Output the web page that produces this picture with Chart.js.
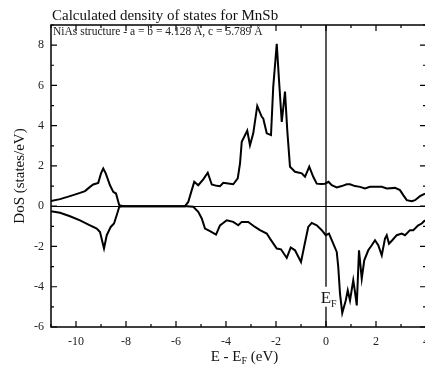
<!DOCTYPE html>
<html>
<head>
<meta charset="utf-8">
<script src="https://cdn.jsdelivr.net/npm/chart.js@4/dist/chart.umd.min.js"></script>
<style>
  html, body { margin: 0; padding: 0; background: #fff; overflow: hidden; width: 425px; height: 374px; }
  canvas { display: block; }
</style>
</head>
<body>
<canvas id="c" width="440" height="374"></canvas>
<script>
// ---- data ----
const titleText = 'Calculated density of states for MnSb';
const noteText = 'NiAs structure - a = b = 4.128 Å, c = 5.789 Å';
const yAxisLabel = 'DoS (states/eV)';

const upEnergy = [-11.0, -10.64, -10.24, -9.84, -9.64, -9.44, -9.31, -9.11, -9.0, -8.91, -8.81, -8.64, -8.51, -8.4, -8.27, -8.1,
  -5.64, -5.51, -5.37, -5.27, -5.11, -4.91, -4.73, -4.57, -4.37, -4.24, -4.11, -3.91, -3.71, -3.53, -3.44, -3.37, -3.15, -3.04,
  -2.91, -2.75, -2.57, -2.51, -2.37, -2.2, -2.11, -1.97, -1.88, -1.77, -1.64, -1.55, -1.44, -1.24, -0.97, -0.84, -0.67, -0.51,
  -0.37, -0.2, -0.04, 0.1, 0.23, 0.43, 0.63, 0.83, 0.96, 1.16, 1.36, 1.56, 1.76, 1.96, 2.23, 2.43, 2.76, 2.96, 3.09, 3.23,
  3.43, 3.56, 3.76, 3.96];
const upDos = [0.26, 0.35, 0.5, 0.66, 0.75, 0.96, 1.08, 1.16, 1.63, 1.87, 1.63, 1.04, 0.71, 0.63, 0.05, 0,
  0, 0.21, 0.8, 1.21, 1.04, 1.33, 1.66, 1.08, 1.01, 0.99, 1.16, 1.13, 1.09, 1.38, 2.12, 3.2, 3.75, 3.03,
  3.62, 4.98, 4.44, 4.36, 3.62, 3.53, 5.94, 8.06, 6.27, 4.19, 5.69, 3.78, 1.96, 1.71, 1.63, 1.46, 1.96, 1.46,
  1.12, 1.1, 1.12, 1.21, 1.04, 0.93, 1.0, 1.09, 1.09, 1.0, 0.96, 0.88, 0.96, 0.96, 0.96, 0.88, 0.91, 0.8, 0.55, 0.3,
  0.25, 0.3, 0.5, 0.63];

const downEnergy = [-11.0, -10.64, -10.24, -9.84, -9.44, -9.17, -9.04, -8.88, -8.77, -8.61, -8.48, -8.35, -8.27, -8.1,
  -5.57, -5.31, -5.11, -4.97, -4.84, -4.64, -4.4, -4.24, -3.97, -3.71, -3.51, -3.37, -3.11, -2.84, -2.64, -2.37, -2.24,
  -1.97, -1.8, -1.57, -1.41, -1.24, -1.0, -0.84, -0.71, -0.57, -0.37, -0.17, -0.01, 0.12, 0.29, 0.43, 0.49, 0.56, 0.65,
  0.79, 0.87, 0.96, 1.09, 1.16, 1.23, 1.32, 1.43, 1.53, 1.69, 1.83, 1.96, 2.09, 2.23, 2.36, 2.43, 2.52, 2.65, 2.83,
  3.03, 3.16, 3.36, 3.49, 3.69, 3.83, 3.96];
const downDos = [-0.25, -0.33, -0.5, -0.7, -0.95, -1.11, -1.28, -2.1, -1.44, -1.03, -0.86, -0.36, -0.03, 0,
  0, -0.03, -0.28, -0.61, -1.11, -1.24, -1.41, -0.95, -0.7, -0.78, -0.95, -0.78, -0.78, -1.03, -1.19, -1.36, -1.61,
  -2.1, -2.14, -2.57, -2.05, -2.19, -2.77, -1.8, -1.03, -0.83, -0.95, -1.19, -1.44, -1.36, -1.86, -2.27, -3.02, -4.34, -5.31,
  -4.68, -4.18, -4.68, -3.68, -4.26, -4.93, -2.19, -3.6, -2.69, -2.19, -1.94, -1.69, -1.94, -2.44, -1.61, -1.44, -1.86, -1.69, -1.44,
  -1.36, -1.44, -1.19, -1.19, -0.95, -0.86, -0.7];

const xMin = -11, xMax = 4;
const yMin = -6, yMax = 9;
const fermiGap = [-4, -5]; // line interrupted for the E_F label

// ---- helpers ----
const SERIF = '"Liberation Serif", "Times New Roman", serif';
const toPts = (xs, ys) => xs.map((x, i) => ({ x: x, y: ys[i] }));

const decorPlugin = {
  id: 'decor',
  afterDraw(chart) {
    const { ctx, chartArea: a, scales: { x, y } } = chart;
    ctx.save();
    ctx.strokeStyle = '#000';
    // zero line
    ctx.lineWidth = 1;
    const y0 = Math.round(y.getPixelForValue(0)) + 0.5;
    ctx.beginPath(); ctx.moveTo(a.left, y0); ctx.lineTo(a.right, y0); ctx.stroke();
    // Fermi line
    ctx.lineWidth = 1.3;
    const x0 = x.getPixelForValue(0);
    ctx.beginPath();
    ctx.moveTo(x0, a.top); ctx.lineTo(x0, y.getPixelForValue(fermiGap[0]));
    ctx.moveTo(x0, y.getPixelForValue(fermiGap[1])); ctx.lineTo(x0, a.bottom);
    ctx.stroke();
    // frame
    ctx.lineWidth = 1.5;
    ctx.strokeRect(a.left, a.top, a.right - a.left, a.bottom - a.top);
    // inward ticks
    ctx.lineWidth = 1.2;
    ctx.beginPath();
    for (let v = xMin; v <= xMax; v++) {
      const px = x.getPixelForValue(v);
      const len = (v % 2 === 0) ? 6 : 3;
      ctx.moveTo(px, a.bottom); ctx.lineTo(px, a.bottom - len);
      ctx.moveTo(px, a.top); ctx.lineTo(px, a.top + len);
    }
    for (let v = yMin; v <= yMax; v++) {
      const py = y.getPixelForValue(v);
      const len = (v % 2 === 0) ? 6 : 3;
      ctx.moveTo(a.left, py); ctx.lineTo(a.left + len, py);
      ctx.moveTo(a.right, py); ctx.lineTo(a.right - len, py);
    }
    ctx.stroke();
    // title
    ctx.fillStyle = '#111';
    ctx.textBaseline = 'alphabetic';
    ctx.textAlign = 'left';
    ctx.font = '15px ' + SERIF;
    ctx.fillText(titleText, 52, 20);
    // note inside plot
    ctx.font = '11.5px ' + SERIF;
    ctx.fillStyle = '#222';
    ctx.fillText(noteText, 53, 35);
    // x-axis label with subscript
    const cx = (a.left + a.right) / 2 + 6;
    const base = 361;
    ctx.fillStyle = '#111';
    ctx.font = '15px ' + SERIF;
    const p1 = 'E - E', p3 = ' (eV)';
    const w1 = ctx.measureText(p1).width, w3 = ctx.measureText(p3).width;
    ctx.font = '10px ' + SERIF;
    const w2 = ctx.measureText('F').width;
    let sx = cx - (w1 + w2 + w3) / 2;
    ctx.font = '15px ' + SERIF;
    ctx.fillText(p1, sx, base);
    ctx.font = '10px ' + SERIF;
    ctx.fillText('F', sx + w1, base + 3);
    ctx.font = '15px ' + SERIF;
    ctx.fillText(p3, sx + w1 + w2, base);
    // E_F marker label
    ctx.font = '17px ' + SERIF;
    ctx.textAlign = 'center';
    ctx.fillText('E', x0, 303);
    ctx.textAlign = 'left';
    ctx.font = '10px ' + SERIF;
    ctx.fillText('F', x0 + 5, 307);
    ctx.restore();
  }
};

new Chart(document.getElementById('c'), {
  type: 'line',
  data: {
    datasets: [
      { label: 'spin up', data: toPts(upEnergy, upDos), borderColor: '#000', borderWidth: 2, pointRadius: 0, tension: 0, fill: false },
      { label: 'spin down', data: toPts(downEnergy, downDos), borderColor: '#000', borderWidth: 2, pointRadius: 0, tension: 0, fill: false }
    ]
  },
  options: {
    responsive: false,
    animation: false,
    layout: { padding: { top: 25, right: 14, left: 0, bottom: 0 } },
    plugins: { legend: { display: false }, tooltip: { enabled: false }, title: { display: false } },
    scales: {
      x: {
        type: 'linear', min: xMin, max: xMax,
        afterFit(s) { s.height = 47; },
        grid: { display: false, drawTicks: false },
        border: { display: false },
        ticks: {
          stepSize: 1, autoSkip: false, maxRotation: 0, padding: 8,
          color: '#222', font: { family: SERIF, size: 12 },
          callback: v => (v % 2 === 0 ? String(v) : '')
        }
      },
      y: {
        type: 'linear', min: yMin, max: yMax,
        afterFit(s) { s.width = 51; },
        grid: { display: false, drawTicks: false },
        border: { display: false },
        title: { display: true, text: yAxisLabel, color: '#111', font: { family: SERIF, size: 15 }, padding: { top: 11, bottom: 0 } },
        ticks: {
          stepSize: 1, autoSkip: false, padding: 7,
          color: '#222', font: { family: SERIF, size: 12 },
          callback: v => (v % 2 === 0 ? String(v) : '')
        }
      }
    }
  },
  plugins: [decorPlugin]
});
</script>
</body>
</html>
